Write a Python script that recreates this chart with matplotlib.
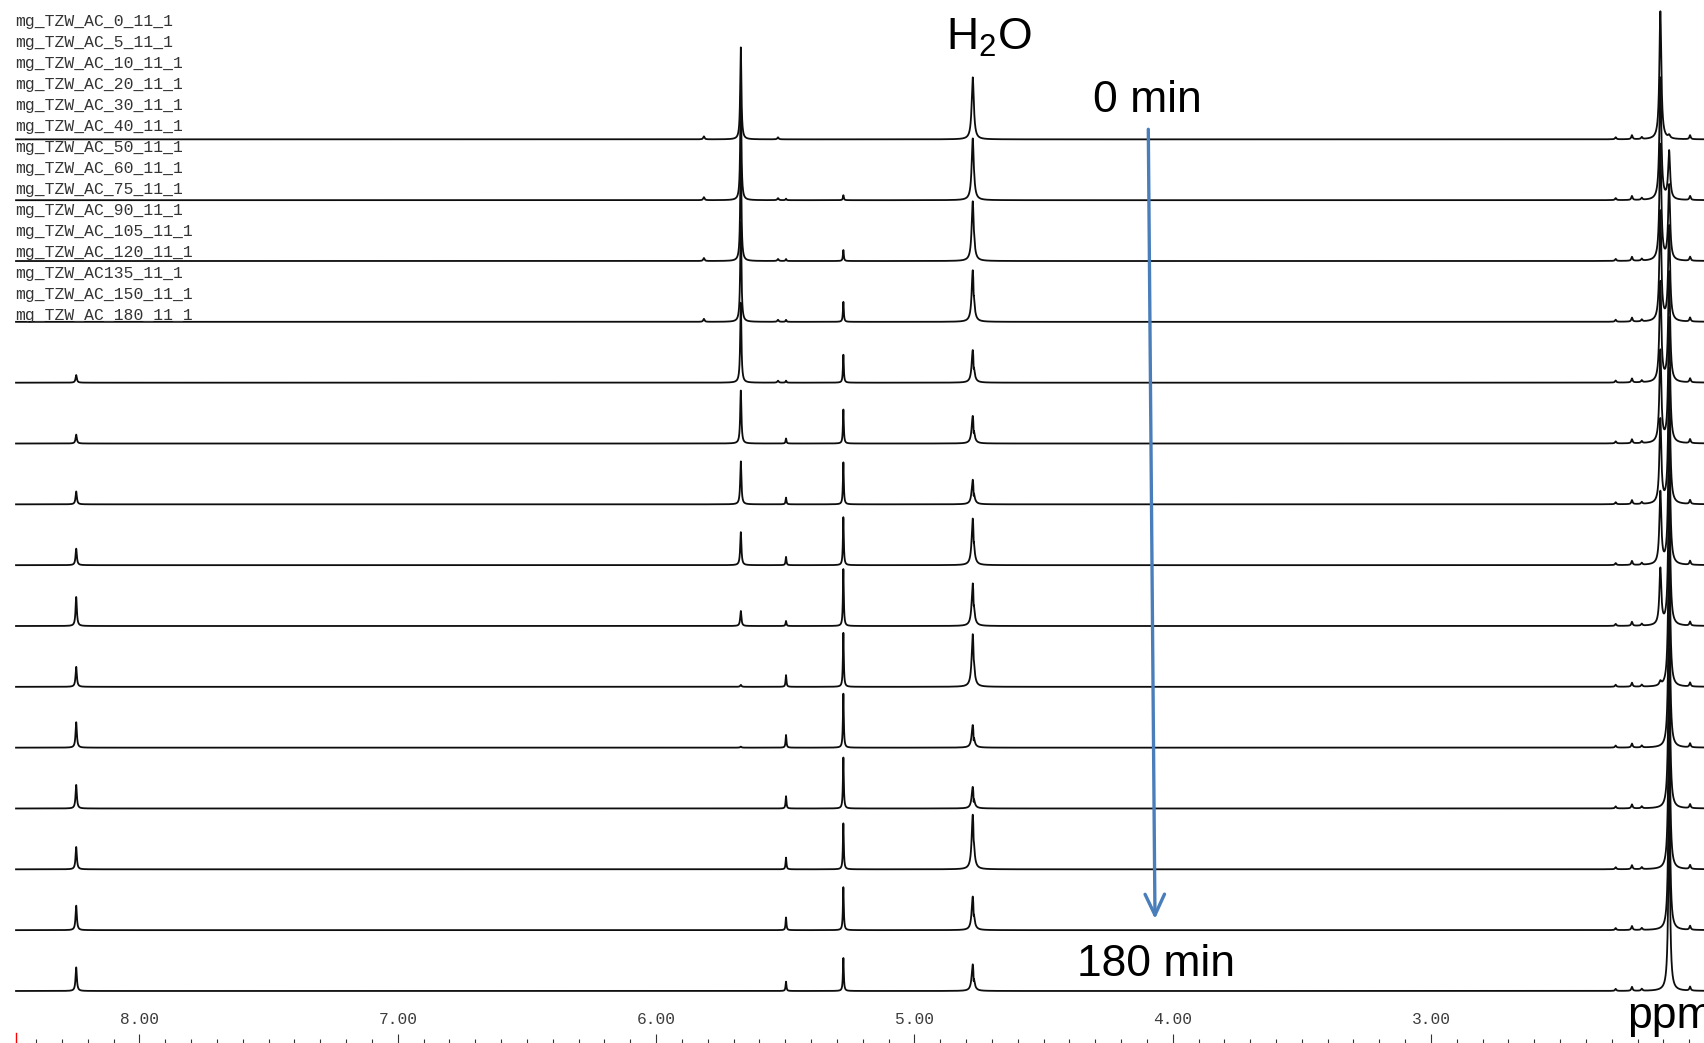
import numpy as np
import matplotlib
matplotlib.use("Agg")
import matplotlib.pyplot as plt
from matplotlib.ticker import FixedLocator, FormatStrFormatter

# ---------------- data ----------------
sample_names = ["mg_TZW_AC_0_11_1", "mg_TZW_AC_5_11_1", "mg_TZW_AC_10_11_1",
                "mg_TZW_AC_20_11_1", "mg_TZW_AC_30_11_1", "mg_TZW_AC_40_11_1",
                "mg_TZW_AC_50_11_1", "mg_TZW_AC_60_11_1", "mg_TZW_AC_75_11_1",
                "mg_TZW_AC_90_11_1", "mg_TZW_AC_105_11_1", "mg_TZW_AC_120_11_1",
                "mg_TZW_AC135_11_1", "mg_TZW_AC_150_11_1", "mg_TZW_AC_180_11_1"]

# main peaks (ppm) and their line half-widths (ppm)
peak_ppm = [8.245, 5.672, 5.497, 5.275, 4.772, 2.112, 2.078]
peak_hwhm = [0.003, 0.0028, 0.002, 0.002, 0.005, 0.0045, 0.0045]

# peak heights per spectrum (top -> bottom), arbitrary intensity units
height_8_25 = [0, 0, 0, 0, 7.6, 8.9, 12.9, 16.5, 29, 20, 25.4, 23.6, 22.3, 24.5, 23.6]
height_5_67 = [92, 105, 108, 100, 80, 53, 43, 33, 15, 2, 1, 0, 0, 0, 0]
height_5_50 = [0, 1.5, 2, 2, 2, 5, 6.7, 8.3, 5, 11.7, 12.7, 12.3, 11.7, 12.7, 9.3]
height_5_28 = [0, 5, 11, 20, 28, 34, 42, 48, 57, 54, 54, 51, 46, 43, 33]
height_h2o = [62, 62, 60, 52, 33, 28, 25, 47, 43, 53, 23, 22, 55, 34, 27]
height_2_11 = [128, 122, 116, 110, 100, 92, 84, 72, 56, 4, 0, 0, 0, 0, 0]
height_2_08 = [3, 48, 75, 95, 110, 125, 135, 145, 150, 155, 160, 160, 160, 160, 160]
h2o_dip = [0, 5, 6, 8, 8, 8, 8, 8, 8, 8, 8, 8, 8, 8, 8]

# small peaks
minor_ppm = [5.815, 5.528, 2.285, 2.222, 2.184, 1.997]
minor_height = [3, 2, 2, 4, 2, 4]
minor_present_until = [4, 5, 15, 15, 15, 15]   # spectra index limit

spectrum_start = 8.478
spectrum_end = 1.90
trace_step = 60.8

xtick_major = [8.0, 7.0, 6.0, 5.0, 4.0, 3.0]
xlim_ppm = (8.540, 1.943)

# ---------------- figure ----------------
plt.rcParams["font.family"] = ["Liberation Sans", "DejaVu Sans"]
plt.rcParams["mathtext.fontset"] = "custom"
plt.rcParams["mathtext.rm"] = "Liberation Sans"

fig = plt.figure(figsize=(17.04, 10.43), dpi=100)
ax = fig.add_axes([0, 0, 1, 1])

ppm = np.linspace(spectrum_start, spectrum_end, 40000)


def lor(x, c, w):
    return w * w / ((x - c) ** 2 + w * w)


n = len(sample_names)
heights = [height_8_25, height_5_67, height_5_50, height_5_28, height_h2o,
           height_2_11, height_2_08]
for i in range(n):
    y = np.zeros_like(ppm)
    for c, w, hs in zip(peak_ppm, peak_hwhm, heights):
        if c == 4.772:
            y += hs[i] * lor(ppm, c + 0.002, w)
            y -= h2o_dip[i] * lor(ppm, c - 0.0015, 0.0008)
        else:
            y += hs[i] * lor(ppm, c, w)
    for c, h, lim in zip(minor_ppm, minor_height, minor_present_until):
        if i < lim:
            y += h * lor(ppm, c, 0.003)
    offset = (n - 1 - i) * trace_step
    ax.plot(ppm, y + offset, color="#0d0d0d", lw=1.3, zorder=2)

bottom_pad = 52
top_pad = 139.3
ax.set_xlim(*xlim_ppm)
ax.set_ylim(-bottom_pad, (n - 1) * trace_step + top_pad)

for s in ax.spines.values():
    s.set_visible(False)
ax.yaxis.set_visible(False)
ax.xaxis.set_major_locator(FixedLocator(xtick_major))
ax.xaxis.set_minor_locator(FixedLocator(np.round(np.arange(8.4, 1.95, -0.1), 2)))
ax.xaxis.set_major_formatter(FormatStrFormatter("%.2f"))
ax.tick_params(axis="x", which="major", direction="in", length=6.5, width=0.8,
               color="#333333", pad=-22, labelsize=11.7, labelcolor="#3c3c3c")
ax.tick_params(axis="x", which="minor", direction="in", length=2.9, width=0.8,
               color="#333333")
for lab in ax.get_xticklabels():
    lab.set_fontfamily("Liberation Mono")
ax.axvline(spectrum_start, ymin=0, ymax=10 / 1043, color="red", lw=1)

# sample names
for i, name in enumerate(sample_names):
    ax.text(15 / 1704, 1 - (21.7 + 21.0 * i) / 1043, name, transform=ax.transAxes,
            family="Liberation Mono", fontsize=11.8, color="#333333",
            va="center", ha="left", zorder=5)

# annotations
ax.text(946 / 1704, 1 - 50 / 1043, r"H$_{\mathrm{2}}$O", transform=ax.transAxes,
        fontsize=32, va="baseline", ha="left", color="black")
ax.text(1093 / 1704, 1 - 112 / 1043, "0 min", transform=ax.transAxes,
        fontsize=32, va="baseline", ha="left", color="black")
ax.text(1077 / 1704, 1 - 976 / 1043, "180 min", transform=ax.transAxes,
        fontsize=32, va="baseline", ha="left", color="black")
ax.text(1627 / 1704, 1 - 1028 / 1043, "ppm", transform=ax.transAxes,
        fontsize=32, va="baseline", ha="left", color="black")

ax.annotate("", xy=(1155 / 1704, 1 - 919 / 1043), xytext=(1148.3 / 1704, 1 - 129.3 / 1043),
            xycoords="axes fraction", textcoords="axes fraction",
            arrowprops=dict(arrowstyle="->,head_length=0.75,head_width=0.35",
                            mutation_scale=20, color="#4A7EBB", lw=2.4,
                            shrinkA=0, shrinkB=0), zorder=6)

fig.savefig("out.png", dpi=100)
